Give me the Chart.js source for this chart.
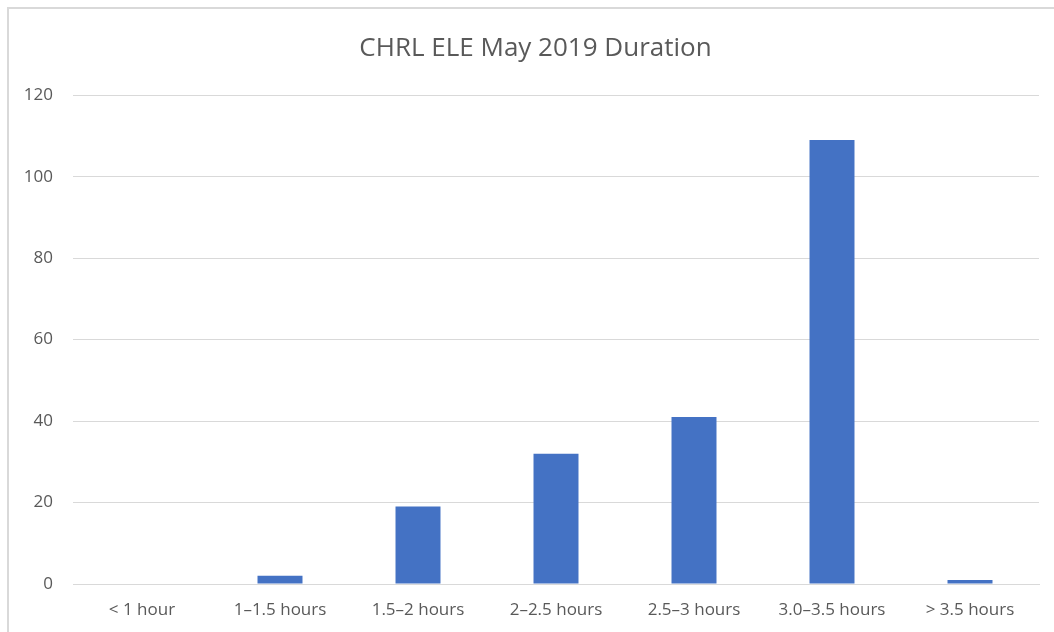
<!DOCTYPE html>
<html>
<head>
<meta charset="utf-8">
<script src="https://cdn.jsdelivr.net/npm/chart.js@4"></script>
<style>
  body { margin: 0; background: #fff; overflow: hidden; }
  #marco { position: absolute; left: 7px; top: 7px; width: 1100px; height: 700px; border: 2px solid #d9d9d9; }
  #contenedor { position: absolute; left: 0; top: 0; width: 1054px; height: 632px; }
</style>
</head>
<body>
<div id="marco"></div>
<div id="contenedor"><canvas id="grafico"></canvas></div>
<script>
// Datos del grafico
const categorias = ['< 1 hour', '1–1.5 hours', '1.5–2 hours', '2–2.5 hours', '2.5–3 hours', '3.0–3.5 hours', '> 3.5 hours'];
const valores = [0, 2, 19, 32, 41, 109, 1];
const titulo = 'CHRL ELE May 2019 Duration';

const fuente = "'Open Sans', 'Liberation Sans', sans-serif";

// Corre el titulo un poco a la derecha (en el original no esta centrado en el canvas)
const moverTitulo = {
    id: 'moverTitulo',
    afterLayout: function (chart) {
        if (chart.titleBlock) {
            chart.titleBlock.left = 32;
        }
    }
};

document.addEventListener('DOMContentLoaded', function () {
    var ctx = document.getElementById('grafico').getContext('2d');

    new Chart(ctx, {
        type: 'bar',
        data: {
            labels: categorias,
            datasets: [{
                data: valores,
                backgroundColor: '#4472C4',
                barPercentage: 0.326,
                categoryPercentage: 1
            }]
        },
        options: {
            responsive: true,
            maintainAspectRatio: false,
            animation: false,
            layout: { padding: { left: 0, right: 15, top: 0, bottom: 0 } },
            plugins: {
                legend: { display: false },
                tooltip: { enabled: false },
                title: {
                    display: true,
                    text: titulo,
                    color: '#595959',
                    font: { family: fuente, size: 26, weight: 'normal' },
                    padding: { top: 33, bottom: 31 }
                }
            },
            scales: {
                x: {
                    grid: { display: false, drawTicks: false },
                    border: { color: '#d9d9d9', width: 1 },
                    ticks: { color: '#595959', font: { family: fuente, size: 17 }, padding: 16, maxRotation: 0 },
                    afterFit: function (escala) { escala.height = 48; }
                },
                y: {
                    min: 0,
                    max: 120,
                    ticks: { stepSize: 20, color: '#595959', font: { family: fuente, size: 17 }, padding: 20 },
                    grid: { color: '#d9d9d9', drawTicks: false },
                    border: { display: false },
                    afterFit: function (escala) { escala.width = 73; }
                }
            }
        },
        plugins: [moverTitulo]
    });
});
</script>
</body>
</html>
